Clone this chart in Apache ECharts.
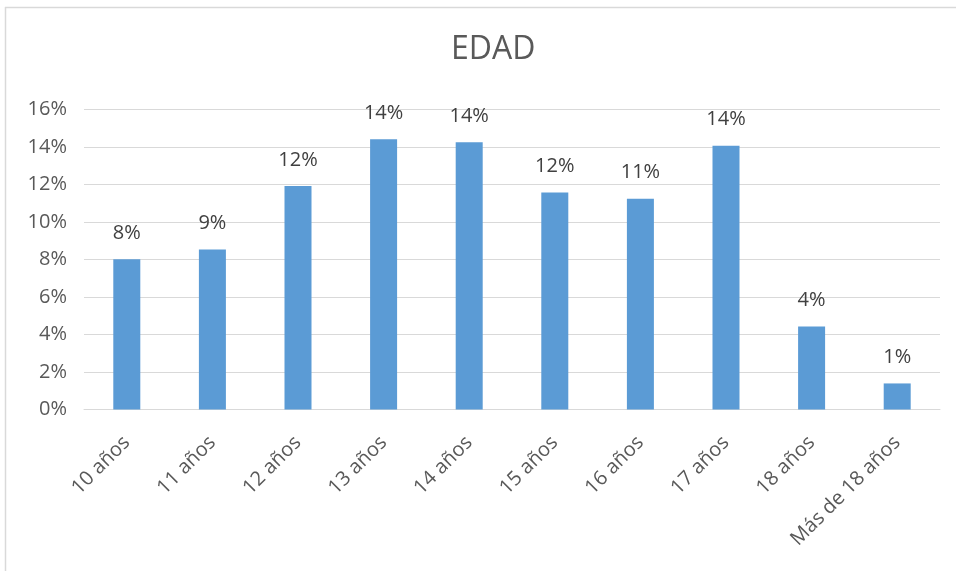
<!DOCTYPE html>
<html>
<head>
<meta charset="utf-8">
<script src="https://cdn.jsdelivr.net/npm/echarts@6/dist/echarts.min.js"></script>
<style>html,body{margin:0;padding:0;background:#fff;}#c{width:956px;height:571px;}</style>
</head>
<body>
<div id="c"></div>
<script>
var categories = ['10 años','11 años','12 años','13 años','14 años','15 años','16 años','17 años','18 años','Más de 18 años'];
var values = [8.01, 8.54, 11.92, 14.41, 14.25, 11.58, 11.24, 14.07, 4.43, 1.39];
var yTicks = [0, 2, 4, 6, 8, 10, 12, 14, 16];

var font = '"Open Sans", "Liberation Sans", sans-serif';
var chart = echarts.init(document.getElementById('c'), null, {renderer: 'canvas'});
chart.setOption({
  animation: false,
  backgroundColor: '#ffffff',
  title: {
    text: 'EDAD', left: 446, top: 29,
    textStyle: {fontFamily: font, fontSize: 32, fontWeight: 'normal', color: '#595959'}
  },
  grid: {left: 84, right: 16, top: 109.5, bottom: 161.5, containLabel: false},
  xAxis: {
    type: 'category', data: categories,
    axisLine: {lineStyle: {color: '#d9d9d9', width: 1}},
    axisTick: {show: false},
    axisLabel: {rotate: 45, interval: 0, margin: 30, fontFamily: font, fontSize: 20, color: '#595959'}
  },
  yAxis: {
    type: 'value', min: yTicks[0], max: yTicks[yTicks.length - 1], interval: 2,
    axisLine: {show: false}, axisTick: {show: false},
    splitLine: {lineStyle: {color: '#d9d9d9', width: 1}},
    axisLabel: {margin: 17, fontFamily: font, fontSize: 20, color: '#595959', formatter: function (v) { return v + '%'; }}
  },
  series: [{
    type: 'bar', data: values, barWidth: 27,
    itemStyle: {color: '#5B9BD5'},
    label: {
      show: true, position: 'top', distance: 16,
      fontFamily: font, fontSize: 20, color: '#404040',
      formatter: function (p) { return Math.round(p.value) + '%'; }
    }
  }],
  graphic: [
    {type: 'line', shape: {x1: 5, y1: 7.5, x2: 956, y2: 7.5}, style: {stroke: '#d9d9d9', lineWidth: 1.5}},
    {type: 'line', shape: {x1: 5.5, y1: 7, x2: 5.5, y2: 571}, style: {stroke: '#d9d9d9', lineWidth: 1.5}}
  ]
});
</script>
</body>
</html>
